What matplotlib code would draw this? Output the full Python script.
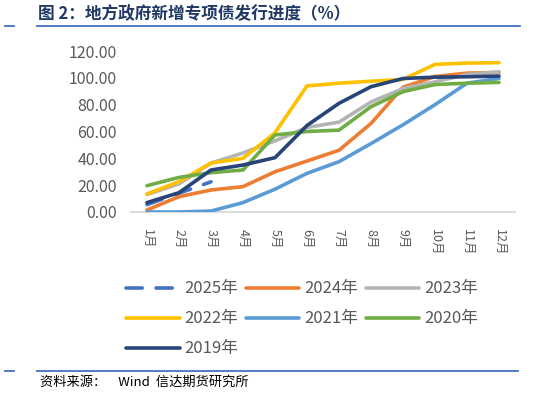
import matplotlib
matplotlib.use("Agg")
import matplotlib.pyplot as plt
from matplotlib.lines import Line2D

plt.rcParams['font.family'] = ['Noto Sans CJK SC', 'DejaVu Sans']

months = ['1月', '2月', '3月', '4月', '5月', '6月', '7月', '8月', '9月', '10月', '11月', '12月']

y2025 = [5.5, 14.0, 22.5]
y2024 = [1.5, 11.4, 16.4, 18.9, 30.0, 38.0, 46.0, 66.0, 93.0, 101.0, 103.5, 104.0]
y2023 = [13.0, 21.0, 36.5, 44.0, 53.0, 63.0, 67.0, 82.0, 92.0, 97.0, 102.5, 104.5]
y2022 = [13.4, 22.6, 36.5, 40.0, 59.0, 94.0, 96.0, 97.5, 98.8, 110.0, 111.0, 111.3]
y2021 = [0.0, 0.0, 0.7, 7.0, 17.0, 28.8, 37.5, 51.0, 65.0, 80.0, 96.0, 99.6]
y2020 = [19.6, 25.8, 29.3, 31.3, 57.4, 60.0, 61.0, 78.5, 89.7, 95.0, 96.0, 96.6]
y2019 = [7.0, 14.4, 31.3, 35.0, 40.5, 64.5, 81.0, 93.4, 99.5, 100.5, 100.8, 101.3]

series = [
    ('2025年', y2025, '#4472C4', '--'),
    ('2024年', y2024, '#ED7D31', '-'),
    ('2023年', y2023, '#B4B4B4', '-'),
    ('2022年', y2022, '#FFC000', '-'),
    ('2021年', y2021, '#5B9BD5', '-'),
    ('2020年', y2020, '#70AD47', '-'),
    ('2019年', y2019, '#264478', '-'),
]

fig = plt.figure(figsize=(5.54, 3.96), dpi=100)
ax = fig.add_axes([131/554, 1-212/396, 384/554, 161/396])

handles = {}
for name, vals, color, ls in series:
    x = list(range(len(vals)))
    if ls == '--':
        ln, = ax.plot(x, vals, color=color, lw=2.6, linestyle=(0, (4.5, 3.8)),
                      dash_capstyle='round', zorder=2)
    else:
        ln, = ax.plot(x, vals, color=color, lw=2.6, solid_capstyle='round',
                      solid_joinstyle='round', zorder=2)
    handles[name] = ln

ax.set_xlim(-0.5, 11.5)
ax.set_ylim(0, 120)
ax.set_yticks(range(0, 121, 20))
ax.set_yticklabels(['%.2f' % v for v in range(0, 121, 20)], fontsize=11.5, color='#595959')
ax.set_xticks(range(12))
ax.set_xticklabels(months, rotation=-90, fontsize=9, color='#595959', va='top')
ax.tick_params(axis='both', length=0)
ax.tick_params(axis='y', pad=10)
ax.tick_params(axis='x', pad=12)
for s in ['left', 'right', 'top']:
    ax.spines[s].set_visible(False)
ax.spines['bottom'].set_color('#D9D9D9')
ax.spines['bottom'].set_linewidth(1.3)
ax.spines['bottom'].set_zorder(1)

order = ['2025年', '2022年', '2019年', '2024年', '2021年', '2023年', '2020年']
fig.legend([handles[o] for o in order], order, loc='upper left',
           bbox_to_anchor=(118/554, 1-272/396), ncol=3, frameon=False,
           fontsize=12, handlelength=3.2, handletextpad=0.3, columnspacing=0.45,
           labelspacing=0.78, borderpad=0, labelcolor='#595959')

# title
fig.text(38/554, 1-14/396, '图 2：地方政府新增专项债发行进度（%）', fontsize=12,
         fontweight='bold', color='#1F3864', va='center', ha='left')
fig.add_artist(Line2D([37/554, 520/554], [1-26/396, 1-26/396], color='#4472C4', lw=1.3))
fig.add_artist(Line2D([5/554, 14/554], [1-26/396, 1-26/396], color='#4472C4', lw=1.3))

# footer
fig.add_artist(Line2D([37/554, 518/554], [1-371/396, 1-371/396], color='#4472C4', lw=1.3))
fig.add_artist(Line2D([5/554, 14/554], [1-371/396, 1-371/396], color='#4472C4', lw=1.3))
fig.text(40/554, 1-382/396, '资料来源：    Wind  信达期货研究所', fontsize=9.5,
         style='italic', color='#000000', va='center', ha='left')

fig.savefig('out.png', dpi=100)
